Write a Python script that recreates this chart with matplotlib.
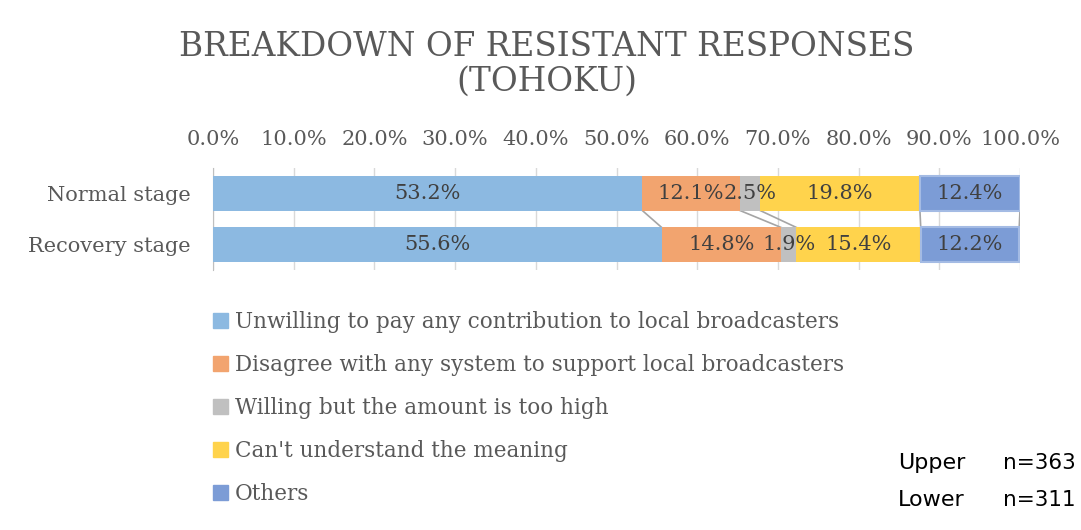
import matplotlib.pyplot as plt
import numpy as np

# data
stages = ['Normal stage', 'Recovery stage']
categories = ['Unwilling to pay any contribution to local broadcasters',
              'Disagree with any system to support local broadcasters',
              'Willing but the amount is too high',
              "Can't understand the meaning",
              'Others']
unwilling = [53.2, 55.6]
disagree = [12.1, 14.8]
too_high = [2.5, 1.9]
cant_understand = [19.8, 15.4]
others = [12.4, 12.2]
ticks = [0, 10, 20, 30, 40, 50, 60, 70, 80, 90, 100]

series = [unwilling, disagree, too_high, cant_understand, others]
colors = ['#8CB9E1', '#F2A46F', '#C0C0C0', '#FFD34C', '#7C9CD6']
edges = ['none', 'none', 'none', 'none', '#A4BBE4']

plt.rcParams['font.family'] = ['DejaVu Serif']
txt = '#595959'

fig = plt.figure(figsize=(10.81, 5.30), dpi=100)
ax = fig.add_axes([213 / 1081, 1 - 270 / 530, 807 / 1081, 102 / 530])

y = np.arange(len(stages))
h = 0.667
left = np.zeros(len(stages))
ends = []
for vals, c, ec, lab in zip(series, colors, edges, categories):
    bars = ax.barh(y, vals, left=left, height=h, color=c,
                   edgecolor=ec, linewidth=1.5 if ec != 'none' else 0, zorder=3)
    ax.bar_label(bars, labels=[f'{v:.1f}%' for v in vals], label_type='center',
                 fontsize=15, color='#404040', zorder=4)
    left = left + np.array(vals)
    ends.append(left.copy())

# series lines between the two bars
for e in ends:
    ax.plot([e[0], e[1]], [0 + h / 2, 1 - h / 2], color='#A5A5A5', lw=1.2, zorder=2)

ax.set_xlim(0, 100)
ax.set_ylim(1.5, -0.5)
ax.set_yticks(y)
ax.set_yticklabels(stages, fontsize=15, color=txt)
ax.set_xticks(ticks)
ax.set_xticklabels([f'{t:.1f}%' for t in ticks], fontsize=15, color=txt)
ax.xaxis.tick_top()
ax.tick_params(axis='x', length=0, pad=14)
ax.tick_params(axis='y', length=0, pad=16)
ax.grid(axis='x', color='#D9D9D9', lw=1, zorder=0)
for s in ['top', 'right', 'bottom']:
    ax.spines[s].set_visible(False)
ax.spines['left'].set_color('#BFBFBF')

fig.text(547 / 1081, 1 - 64 / 530, 'BREAKDOWN OF RESISTANT RESPONSES\n(TOHOKU)',
         ha='center', va='center', fontsize=23.6, color=txt, linespacing=1.12)

handles = [plt.Rectangle((0, 0), 1, 1, color=c) for c in colors]
leg = ax.legend(handles, categories, loc='upper left',
                bbox_to_anchor=(213 / 1081, 1 - 311 / 530),
                bbox_transform=fig.transFigure, frameon=False, fontsize=15.5,
                handlelength=0.7, handleheight=0.7, handletextpad=0.3,
                labelspacing=0.98, borderpad=0, borderaxespad=0)
for t in leg.get_texts():
    t.set_color(txt)

fig.text(898 / 1081, 1 - 463 / 530, 'Upper', fontsize=16, va='center',
         family='DejaVu Sans', color='black')
fig.text(1003 / 1081, 1 - 463 / 530, 'n=363', fontsize=15.5, va='center',
         family='DejaVu Sans', color='black')
fig.text(898 / 1081, 1 - 500 / 530, 'Lower', fontsize=16, va='center',
         family='DejaVu Sans', color='black')
fig.text(1003 / 1081, 1 - 500 / 530, 'n=311', fontsize=15.5, va='center',
         family='DejaVu Sans', color='black')

fig.savefig('out.png', dpi=100)
